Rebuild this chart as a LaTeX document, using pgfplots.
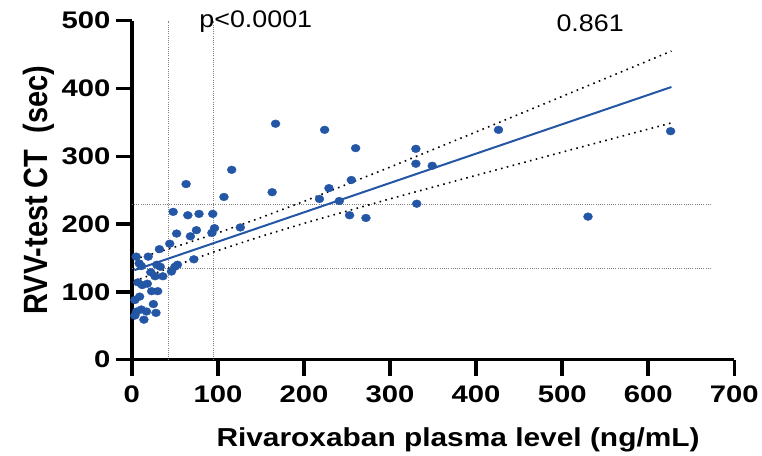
\documentclass[border=0pt]{standalone}
\usepackage{fontspec}
\setmainfont{Liberation Sans}
\newfontfamily\tickfont{Liberation Sans}[FakeStretch=1.22]
\newfontfamily\labfont{Liberation Sans}[FakeStretch=1.15]
\newfontfamily\annfont{Liberation Sans}[FakeStretch=1.12]
\usepackage{pgfplots}
\pgfplotsset{compat=1.18}
\definecolor{dotblue}{HTML}{2456A6}

\pgfplotstableread{
x y
167 348
224 339
260 312
426 339
626 337
330 311
330 289
349 286
163 247
63 259
116 280
229 253
255 265
241 234
218 237
253 213
272 209
331 230
530 211
107 240
48 218
65 213
78 215
94 215
52 186
75 191
68 182
96 194
93 187
126 195
44 171
32 163
19 152
5 152
72 148
8.5 142
11 138
29 140
33 137
53 140
50 137
46 130
22 129
27 123
36 123
7 114
12 110
18 112
23 101
30 101
9 93
3.5 88
25 82
5.5 71
11 74
17 71
3.5 65
14 59
28 69
}\pts

\begin{document}
\begin{tikzpicture}
\path (-132bp,-94bp) rectangle (630bp,360bp);
\begin{axis}[
 at={(0,0)}, anchor=south west,
 scale only axis, width=603bp, height=339.3bp,
 xmin=0, xmax=700, ymin=0, ymax=500,
 axis x line*=bottom, axis y line*=left,
 axis line style={line width=3.5bp, -},
 xtick={0,100,...,700}, ytick={0,100,...,500},
 xtick align=outside, ytick align=outside,
 major tick length=16bp,
 every tick/.style={line width=3.5bp, black},
 /pgf/number format/assume math mode=true,
 ticklabel style={font=\tickfont\bfseries\fontsize{24bp}{24bp}\selectfont},
 xticklabel style={yshift=-7bp},
 yticklabel style={xshift=-2bp},
 xlabel={Rivaroxaban plasma level (ng/mL)},
 xlabel style={font=\labfont\bfseries\fontsize{26bp}{26bp}\selectfont, yshift=-18bp, xshift=25bp},
 ylabel={\scalebox{1}[1.16]{RVV-test CT\ \ (sec)}},
 ylabel style={font=\bfseries\fontsize{29bp}{29bp}\selectfont},
 clip=false,
]
\addplot[gray, line width=0.8bp, dash pattern=on 1bp off 1.2bp] coordinates {(43,0) (43,500)};
\addplot[gray, line width=0.8bp, dash pattern=on 1bp off 1.2bp] coordinates {(95,0) (95,500)};
\addplot[gray, line width=0.8bp, dash pattern=on 1bp off 1.2bp] coordinates {(0,228.5) (674,228.5)};
\addplot[gray, line width=0.8bp, dash pattern=on 1bp off 1.2bp] coordinates {(0,135) (674,135)};
\addplot[black, line width=1.6bp, dash pattern=on 1.6bp off 4.4bp] coordinates {
(3,148.1) (50,166.2) (100,187.0) (150,209.5) (200,233.5) (300,284.0) (400,335.9) (500,388.3) (627,455.2)};
\addplot[black, line width=1.6bp, dash pattern=on 1.6bp off 4.4bp] coordinates {
(3,115.9) (50,138.5) (100,161.0) (150,181.8) (200,201.1) (300,237.2) (400,271.9) (500,306.1) (627,349.2)};
\addplot[only marks, mark=*, mark size=3.9bp, mark options={xscale=1.15, fill=dotblue, draw=dotblue}] table[x=x, y=y] {\pts};
\addplot[dotblue, line width=2bp] coordinates {(3,132.0) (627,402.2)};
\node[font=\annfont\fontsize{24bp}{24bp}\selectfont] at (axis cs:144,498) {p<0.0001};
\node[font=\annfont\fontsize{24bp}{24bp}\selectfont] at (axis cs:532.5,496) {0.861};
\end{axis}
\end{tikzpicture}
\end{document}
